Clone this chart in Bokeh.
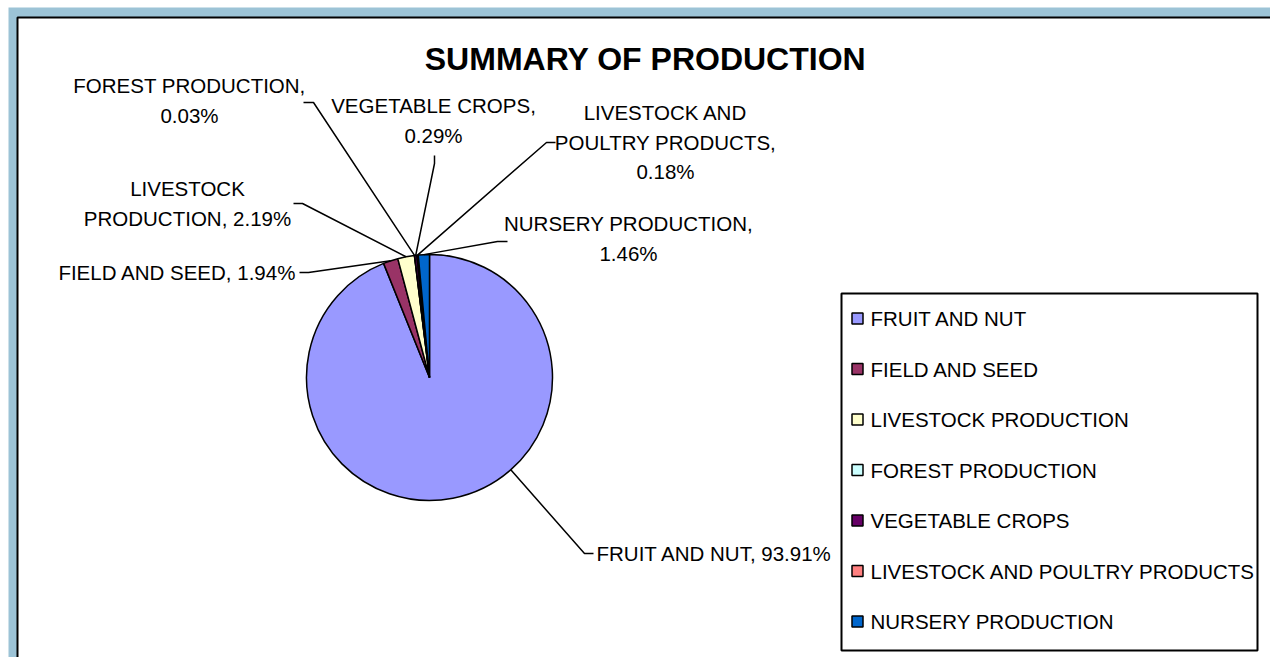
import math
import textwrap
from bokeh.plotting import figure
from bokeh.models import Range1d
from bokeh.core.properties import value
from bokeh.embed import file_html
from bokeh.resources import INLINE

# ---------------- data ----------------
categories = ["FRUIT AND NUT", "FIELD AND SEED", "LIVESTOCK PRODUCTION",
              "FOREST PRODUCTION", "VEGETABLE CROPS",
              "LIVESTOCK AND POULTRY PRODUCTS", "NURSERY PRODUCTION"]
percents = [93.91, 1.94, 2.19, 0.03, 0.29, 0.18, 1.46]
colors = ["#9999FF", "#993366", "#FFFFCC", "#CCFFFF", "#660066", "#FF8080", "#0066CC"]
title_text = "SUMMARY OF PRODUCTION"

# ---------------- layout (picture pixel coordinates) ----------------
W, H = 1270, 657
BLUE = "#9cc3d6"
BX0, BY0 = 8, 7            # outer light-blue frame start
PX0, PY0, PX1 = 17, 17, 1271  # white panel (black edge) bounds
CX, CY, R = 429, 377, 123
FONT = "Liberation Sans"
FS = "20.5px"
LINE_H = 29.5
# anchor x, first line y, align, wrap width, leader start, leader elbow
label_layout = [
    (596, 553, "left", 40, (593, 553), (584, 553)),
    (296, 272, "right", 40, (299, 272), (308, 272)),
    (187, 188, "center", 17, (293, 203), (302, 203)),
    (189, 85, "center", 18, (303, 102), (313, 102)),
    (433, 105, "center", 18, (434, 155), (434, 163)),
    (665, 112, "center", 17, (555, 142), (546, 142)),
    (628, 223, "center", 19, (507, 241), (497, 241)),
]
LEG_X0, LEG_X1, LEG_Y0, LEG_Y1 = 841, 1257, 293, 650
LEG_FIRST, LEG_STEP = 318, 50.5
LEG_SQ_X, LEG_SQ = 857, 11
LEG_TX = 870

def Y(py):
    return -py

p = figure(width=W, height=H, output_backend="svg", toolbar_location=None,
           x_axis_type=None, y_axis_type=None,
           x_range=Range1d(0, W), y_range=Range1d(-H, 0),
           min_border=0)
p.xgrid.visible = False
p.ygrid.visible = False
p.outline_line_color = None
p.border_fill_color = "white"
p.background_fill_color = "white"

# outer light-blue frame and white panel with black edge
p.quad(left=[BX0], right=[W + 20], top=[Y(BY0)], bottom=[Y(H + 20)],
       fill_color=BLUE, line_color=None)
p.quad(left=[PX0], right=[PX1], top=[Y(PY0)], bottom=[Y(H + 20)],
       fill_color="white", line_color="black", line_width=2)

# ---------------- pie ----------------
total = sum(percents)
cum = [0.0]
for v in percents:
    cum.append(cum[-1] + v / total)
starts = [math.pi / 2 - 2 * math.pi * c for c in cum[:-1]]
ends = [math.pi / 2 - 2 * math.pi * c for c in cum[1:]]
p.wedge(x=[CX] * len(percents), y=[Y(CY)] * len(percents), radius=R,
        start_angle=starts, end_angle=ends, direction="clock",
        fill_color=colors, line_color="black", line_width=1.5)

# ---------------- labels & leader lines ----------------
lxs, lys = [], []
for i, (cat, pct) in enumerate(zip(categories, percents)):
    ax, ay, align, wrapw, lstart, elbow = label_layout[i]
    lines = textwrap.wrap(f"{cat}, {pct:.2f}%", width=wrapw)
    p.text(x=[ax] * len(lines), y=[Y(ay + k * LINE_H) for k in range(len(lines))],
           text=lines, text_font=value(FONT), text_font_size=FS,
           text_align=align, text_baseline="middle", text_color="black")
    a0, a1 = cum[i] * 360, cum[i + 1] * 360
    ang = math.degrees(math.atan2(elbow[0] - CX, CY - elbow[1])) % 360
    th = ang if a0 <= ang <= a1 else (a0 + a1) / 2
    ex = CX + R * math.sin(math.radians(th))
    ey = CY - R * math.cos(math.radians(th))
    lxs.append([lstart[0], elbow[0], ex])
    lys.append([Y(lstart[1]), Y(elbow[1]), Y(ey)])
p.multi_line(xs=lxs, ys=lys, line_color="black", line_width=1.5)

# ---------------- title ----------------
p.text(x=[645], y=[Y(58)], text=[title_text], text_font=value("Liberation Sans"),
       text_font_size="32px", text_font_style="bold", text_align="center",
       text_baseline="middle", text_color="black")

# ---------------- legend ----------------
p.quad(left=[LEG_X0], right=[LEG_X1], top=[Y(LEG_Y0)], bottom=[Y(LEG_Y1)],
       fill_color="white", line_color="black", line_width=2)
ly = [Y(LEG_FIRST + k * LEG_STEP) for k in range(len(categories))]
p.rect(x=[LEG_SQ_X] * len(categories), y=ly, width=LEG_SQ, height=LEG_SQ,
       fill_color=colors, line_color="black", line_width=1.5)
p.text(x=[LEG_TX] * len(categories), y=ly, text=categories, text_font=value(FONT),
       text_font_size=FS, text_align="left", text_baseline="middle", text_color="black")

open("out.html", "w").write(file_html(p, INLINE))
